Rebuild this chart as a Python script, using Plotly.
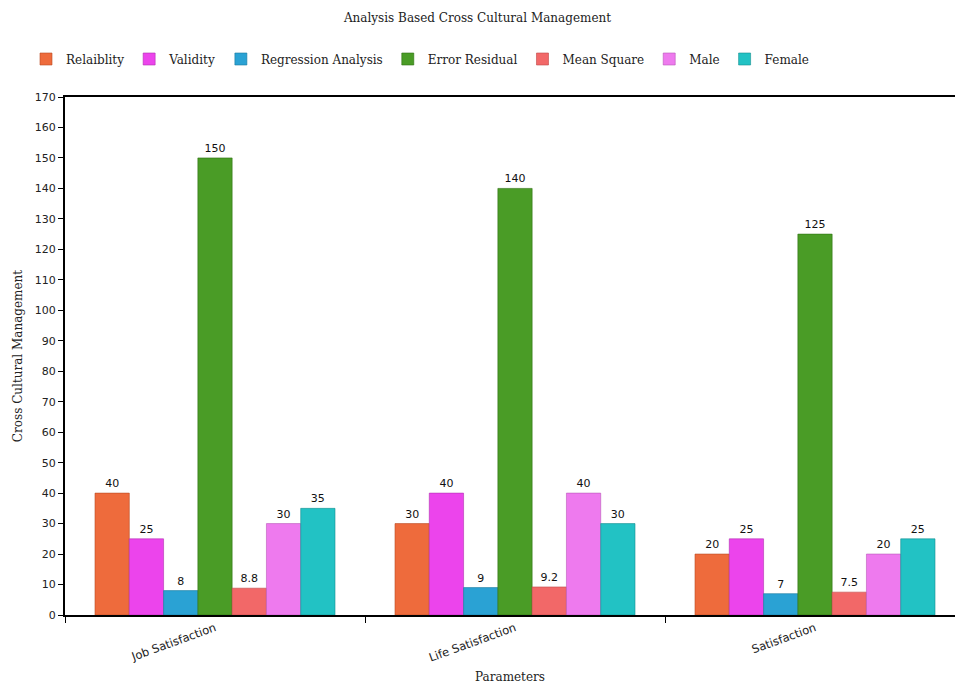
import plotly.graph_objects as go

categories = ["Job Satisfaction", "Life Satisfaction", "Satisfaction"]
series_names = ["Relaiblity", "Validity", "Regression Analysis", "Error Residual",
                "Mean Square", "Male", "Female"]
reliability = [40, 30, 20]
validity = [25, 40, 25]
regression = [8, 9, 7]
error_residual = [150, 140, 125]
mean_square = [8.8, 9.2, 7.5]
male = [30, 40, 20]
female = [35, 30, 25]
y_ticks = list(range(0, 171, 10))

series_values = [reliability, validity, regression, error_residual, mean_square, male, female]
colors = ["#EE6B3C", "#EC44EC", "#2AA2D4", "#4A9C26", "#F26868", "#EE7AEE", "#22C2C4"]
edge = ["#B84A22", "#B030B0", "#1A7AA0", "#2E7010", "#C04848", "#B858B8", "#168E90"]

fig = go.Figure()
for name, vals, c, e in zip(series_names, series_values, colors, edge):
    fig.add_trace(go.Bar(
        name=name, x=categories, y=vals,
        marker=dict(color=c, line=dict(color=e, width=0.6)),
        text=[str(v) for v in vals], textposition="outside",
        textfont=dict(family="DejaVu Sans", size=11, color="#111"),
        cliponaxis=False,
    ))

serif = "DejaVu Serif"
fig.update_layout(
    width=955, height=684,
    margin=dict(l=65, r=0, t=97, b=69),
    paper_bgcolor="white", plot_bgcolor="white",
    barmode="group", bargap=0.2, bargroupgap=0.0,
    title=dict(text="Analysis Based Cross Cultural Management", x=0.5, xanchor="center",
               y=1 - 18 / 684, yanchor="middle",
               font=dict(family=serif, size=12, color="#222")),
    legend=dict(orientation="h", xref="container", x=26 / 955, yref="container",
                y=1 - 59 / 684, yanchor="middle", xanchor="left",
                font=dict(family=serif, size=12, color="#222"),
                itemwidth=30, traceorder="normal"),
    font=dict(family="DejaVu Sans", size=11, color="#222"),
)
fig.update_xaxes(
    range=[-0.5, 2.5 - 10 / 300], automargin=False,
    showline=True, linecolor="black", linewidth=2, mirror=True,
    ticks="outside", tickson="boundaries", ticklen=6, tickcolor="black",
    tickangle=-20, tickfont=dict(family="DejaVu Sans", size=11.5, color="#222"),
    showgrid=False,
    title=dict(text="Parameters", font=dict(family=serif, size=12, color="#222"), standoff=20),
)
fig.update_yaxes(
    range=[0, 170], tickvals=y_ticks, automargin=False,
    showline=True, linecolor="black", linewidth=2,
    ticks="outside", ticklen=5, tickcolor="black",
    tickfont=dict(family="DejaVu Sans", size=11, color="#222"),
    showgrid=False, zeroline=False,
    title=dict(text="Cross Cultural Management", font=dict(family=serif, size=12, color="#222"), standoff=10),
)

fig.write_html("out.html")
